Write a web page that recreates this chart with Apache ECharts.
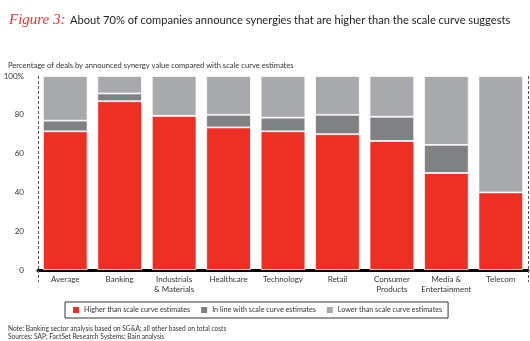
<!DOCTYPE html>
<html><head><meta charset="utf-8">
<script src="https://cdn.jsdelivr.net/npm/echarts@6/dist/echarts.min.js"></script>
<style>html,body{margin:0;padding:0;background:#fff}#c{width:530px;height:341px}</style>
</head><body><div id="c"></div>
<script>
const categories = ['Average','Banking','Industrials\n& Materials','Healthcare','Technology','Retail','Consumer\nProducts','Media &\nEntertainment','Telecom'];
const higher = [71.5, 87, 79.5, 73.5, 71.5, 70, 66.5, 50, 40];
const inLine = [5.5, 4, 0, 6.5, 7, 10, 12.5, 14.5, 0];
const lower = [23, 9, 20.5, 20, 21.5, 20, 21, 35.5, 60];
const seriesNames = ['Higher than scale curve estimates','In line with scale curve estimates','Lower than scale curve estimates'];
const yTicks = [0, 20, 40, 60, 80, 100];

const FONT = 'Lato';
const chart = echarts.init(document.getElementById('c'), null, {renderer:'canvas'});
const mk = (name, data, color) => ({
  name, type:'bar', stack:'s', data, barWidth:'82%',
  itemStyle:{color, borderColor:'#fff', borderWidth:0.8},
  emphasis:{disabled:true}
});
chart.setOption({
  animation:false,
  textStyle:{fontFamily:FONT},
  title:[
    {left:4, top:6, text:'{a|Figure 3:} {b|About 70% of companies announce synergies that are higher than the scale curve suggests}',
     textStyle:{fontWeight:'normal', rich:{a:{fontFamily:'Liberation Serif', fontStyle:'italic', fontSize:15, color:'#E8343A'}, b:{fontFamily:FONT, fontSize:11.1, color:'#222'}}}},
    {left:3, top:57, text:'Percentage of deals by announced synergy value compared with scale curve estimates',
     textStyle:{fontFamily:FONT, fontSize:7.6, fontWeight:'normal', color:'#333'}},
    {left:3, top:320, text:'Note: Banking sector analysis based on SG&A; all other based on total costs',
     textStyle:{fontFamily:FONT, fontSize:6.6, fontWeight:'normal', color:'#333'}},
    {left:3, top:328, text:'Sources: SAP; FactSet Research Systems; Bain analysis',
     textStyle:{fontFamily:FONT, fontSize:6.6, fontWeight:'normal', color:'#333'}}
  ],
  legend:{
    left:65, top:302, itemWidth:8, itemHeight:8, itemGap:9,
    padding:[3,6,3,6], borderColor:'#333', borderWidth:1, borderRadius:0,
    textStyle:{fontFamily:FONT, fontSize:7.2, color:'#333', padding:[0,0,0,-1]},
    data:seriesNames.map(n=>({name:n, icon:'rect'}))
  },
  grid:{left:38, right:2, top:76, bottom:71},
  xAxis:{
    type:'category', data:categories,
    axisLine:{lineStyle:{color:'#000', width:3}},
    axisTick:{show:true, interval:(i)=>i===1, length:12, inside:false, lineStyle:{color:'#555', type:[3,2], width:1}},
    splitLine:{show:true, interval:(i)=>i===1, lineStyle:{color:'#555', type:[3,2], width:1}},
    axisLabel:{fontFamily:FONT, fontSize:8, color:'#333', margin:4, lineHeight:10, interval:0}
  },
  yAxis:{
    type:'value', min:0, max:100, interval:20,
    axisLine:{show:false}, axisTick:{show:false}, splitLine:{show:false},
    axisLabel:{fontFamily:FONT, fontSize:8, color:'#333', margin:14, formatter:(v)=> v===100?'100%':String(v)}
  },
  series:[mk(seriesNames[0], higher, '#EE2F24'), mk(seriesNames[1], inLine, '#808184'), mk(seriesNames[2], lower, '#A7A9AC')]
});
</script></body></html>
